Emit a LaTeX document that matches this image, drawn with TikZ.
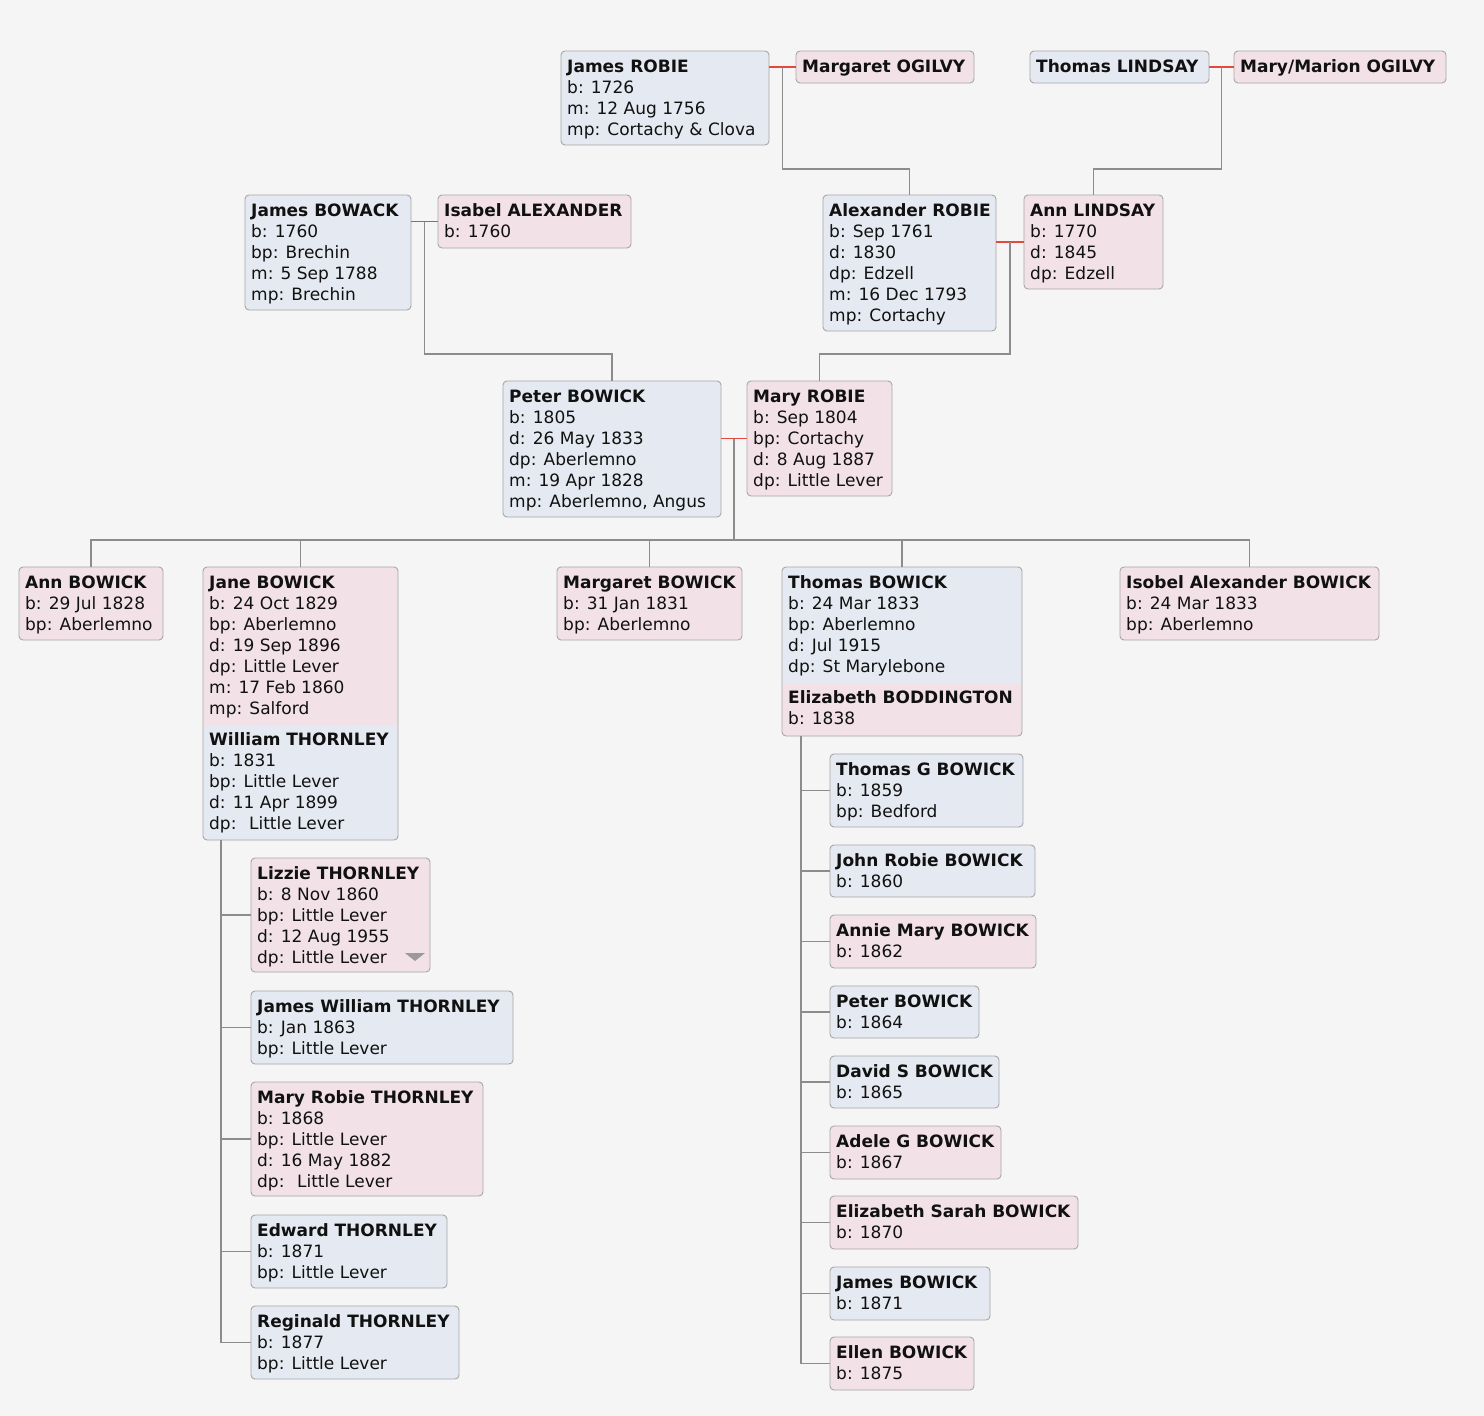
\documentclass[tikz,border=0pt]{standalone}
\usepackage{fontspec}
\setmainfont{DejaVu Sans}
\usetikzlibrary{calc}
\definecolor{bgc}{HTML}{F5F5F5}
\definecolor{mcol}{HTML}{E5E9F1}
\definecolor{fcol}{HTML}{F2E2E7}
\definecolor{bordc}{HTML}{A6A6A6}
\definecolor{kinc}{HTML}{8C8C8C}
\definecolor{marc}{HTML}{E5483C}
\definecolor{txtc}{HTML}{111111}
\definecolor{tric}{HTML}{9A9A9A}
\newcommand\fs{\fontsize{17}{21}\selectfont}
\tikzset{
  box/.style={draw=bordc, rounded corners=4pt, line width=0.9pt, anchor=north west, inner sep=0pt, outer sep=0pt},
  mbox/.style={box, fill=mcol},
  fbox/.style={box, fill=fcol},
  janebox/.style={fbox, path picture={\fill[mcol] ([yshift=-158.5pt]path picture bounding box.north west) rectangle (path picture bounding box.south east);}},
  thombox/.style={mbox, path picture={\fill[fcol] ([yshift=-117pt]path picture bounding box.north west) rectangle (path picture bounding box.south east);}},
  txt/.style={anchor=base west, inner sep=0pt, font=\fs, text=txtc},
  kin/.style={draw=kinc, line width=1.4pt},
  marr/.style={draw=marc, line width=1.4pt},
}
\newcommand\person[7]{%
  \node[#6, minimum width=#4pt, minimum height=#5pt] (#1) at (#2,#3) {};
  \node[txt] (#1-t) at ([shift={(6pt,-21pt)}]#1.north west) {\begin{tabular}[t]{@{}l@{}}#7\end{tabular}};}
\begin{document}
\begin{tikzpicture}[x=1pt,y=-1pt]
\fill[bgc] (0,0) rectangle (1484,1416);
\useasboundingbox (0,0) rectangle (1484,1416);
% generation 1
\person{jr}{561}{51}{208}{94}{mbox}{\textbf{James ROBIE}\\b: 1726\\m: 12 Aug 1756\\mp: Cortachy \& Clova}
\person{mo}{796}{51}{178}{32}{fbox}{\textbf{Margaret OGILVY}}
\person{tl}{1030}{51}{179}{32}{mbox}{\textbf{Thomas LINDSAY}}
\person{mmo}{1234}{51}{212}{32}{fbox}{\textbf{Mary/Marion OGILVY}}
% generation 2
\person{jbw}{245}{195}{166}{115}{mbox}{\textbf{James BOWACK}\\b: 1760\\bp: Brechin\\m: 5 Sep 1788\\mp: Brechin}
\person{ia}{438}{195}{193}{53}{fbox}{\textbf{Isabel ALEXANDER}\\b: 1760}
\person{ar}{823}{195}{173}{136}{mbox}{\textbf{Alexander ROBIE}\\b: Sep 1761\\d: 1830\\dp: Edzell\\m: 16 Dec 1793\\mp: Cortachy}
\person{al}{1024}{195}{139}{94}{fbox}{\textbf{Ann LINDSAY}\\b: 1770\\d: 1845\\dp: Edzell}
% generation 3
\person{pb}{503}{381}{218}{136}{mbox}{\textbf{Peter BOWICK}\\b: 1805\\d: 26 May 1833\\dp: Aberlemno\\m: 19 Apr 1828\\mp: Aberlemno, Angus}
\person{mr}{747}{381}{145}{115}{fbox}{\textbf{Mary ROBIE}\\b: Sep 1804\\bp: Cortachy\\d: 8 Aug 1887\\dp: Little Lever}
% generation 4
\person{abw}{19}{567}{144}{73}{fbox}{\textbf{Ann BOWICK}\\b: 29 Jul 1828\\bp: Aberlemno}
\person{jb}{203}{567}{195}{273}{janebox}{\textbf{Jane BOWICK}\\b: 24 Oct 1829\\bp: Aberlemno\\d: 19 Sep 1896\\dp: Little Lever\\m: 17 Feb 1860\\mp: Salford\\[10pt]\textbf{William THORNLEY}\\b: 1831\\bp: Little Lever\\d: 11 Apr 1899\\dp: \ Little Lever}
\person{mb}{557}{567}{185}{73}{fbox}{\textbf{Margaret BOWICK}\\b: 31 Jan 1831\\bp: Aberlemno}
\person{tb}{782}{567}{240}{169}{thombox}{\textbf{Thomas BOWICK}\\b: 24 Mar 1833\\bp: Aberlemno\\d: Jul 1915\\dp: St Marylebone\\[10pt]\textbf{Elizabeth BODDINGTON}\\b: 1838}
\person{iab}{1120}{567}{259}{73}{fbox}{\textbf{Isobel Alexander BOWICK}\\b: 24 Mar 1833\\bp: Aberlemno}
% Jane's children
\person{lt}{251}{858}{179}{114}{fbox}{\textbf{Lizzie THORNLEY}\\b: 8 Nov 1860\\bp: Little Lever\\d: 12 Aug 1955\\dp: Little Lever}
\person{jwt}{251}{991}{262}{73}{mbox}{\textbf{James William THORNLEY}\\b: Jan 1863\\bp: Little Lever}
\person{mrt}{251}{1082}{232}{114}{fbox}{\textbf{Mary Robie THORNLEY}\\b: 1868\\bp: Little Lever\\d: 16 May 1882\\dp: \ Little Lever}
\person{et}{251}{1215}{196}{73}{mbox}{\textbf{Edward THORNLEY}\\b: 1871\\bp: Little Lever}
\person{rt}{251}{1306}{208}{73}{mbox}{\textbf{Reginald THORNLEY}\\b: 1877\\bp: Little Lever}
% Thomas's children
\person{tgb}{830}{754}{193}{73}{mbox}{\textbf{Thomas G BOWICK}\\b: 1859\\bp: Bedford}
\person{jrb}{830}{845}{205}{52}{mbox}{\textbf{John Robie BOWICK}\\b: 1860}
\person{amb}{830}{915}{206}{53}{fbox}{\textbf{Annie Mary BOWICK}\\b: 1862}
\person{pbk}{830}{986}{149}{52}{mbox}{\textbf{Peter BOWICK}\\b: 1864}
\person{dsb}{830}{1056}{169}{52}{mbox}{\textbf{David S BOWICK}\\b: 1865}
\person{agb}{830}{1126}{171}{53}{fbox}{\textbf{Adele G BOWICK}\\b: 1867}
\person{esb}{830}{1196}{248}{53}{fbox}{\textbf{Elizabeth Sarah BOWICK}\\b: 1870}
\person{jbk}{830}{1267}{160}{53}{mbox}{\textbf{James BOWICK}\\b: 1871}
\person{ebk}{830}{1337}{144}{53}{fbox}{\textbf{Ellen BOWICK}\\b: 1875}
% dropdown triangle
\fill[tric] ([shift={(-25pt,19pt)}]lt.south east) -- ([shift={(-5pt,19pt)}]lt.south east) -- ([shift={(-15pt,11pt)}]lt.south east) -- cycle;
% marriages and descent
\draw[marr] (jr.east |- mo.west) -- (mo.west);
\coordinate (c1) at ($(jr.east |- mo.west)!0.5!(mo.west)$);
\draw[kin] (c1) |- ([yshift=26pt]ar.north) -- (ar.north);
\draw[marr] (tl.east) -- (mmo.west);
\coordinate (c2) at ($(tl.east)!0.5!(mmo.west)$);
\draw[kin] (c2) |- ([yshift=26pt]al.north) -- (al.north);
\draw[marr] (jbw.east |- ia.west) -- (ia.west);
\coordinate (c3) at ($(jbw.east |- ia.west)!0.5!(ia.west)$);
\draw[kin] (c3) |- ([yshift=27pt]pb.north) -- (pb.north);
\draw[marr] (ar.east |- al.west) -- (al.west);
\coordinate (c4) at ($(ar.east |- al.west)!0.5!(al.west)$);
\draw[kin] (c4) |- ([yshift=27pt]mr.north) -- (mr.north);
\draw[marr] (pb.east |- mr.west) -- (mr.west);
\coordinate (c5) at ($(pb.east |- mr.west)!0.5!(mr.west)$);
\coordinate (bus) at ([yshift=27pt]c5 |- tb.north);
\draw[kin] (c5) -- (bus);
\draw[kin] (abw.north) -- (abw.north |- bus) -- (iab.north |- bus) -- (iab.north);
\draw[kin] (jb.north) -- (jb.north |- bus);
\draw[kin] (mb.north) -- (mb.north |- bus);
\draw[kin] (tb.north) -- (tb.north |- bus);
% Jane's children lines
\coordinate (jtop) at ([xshift=18pt]jb.south west);
\draw[kin] (jtop) -- (jtop |- rt.west) -- (rt.west);
\foreach \c in {lt,jwt,mrt,et} \draw[kin] (jtop |- \c.west) -- (\c.west);
% Thomas's children lines
\coordinate (ttop) at ([xshift=19pt]tb.south west);
\draw[kin] (ttop) -- (ttop |- ebk.west) -- (ebk.west);
\foreach \c in {tgb,jrb,amb,pbk,dsb,agb,esb,jbk} \draw[kin] (ttop |- \c.west) -- (\c.west);
\end{tikzpicture}
\end{document}
